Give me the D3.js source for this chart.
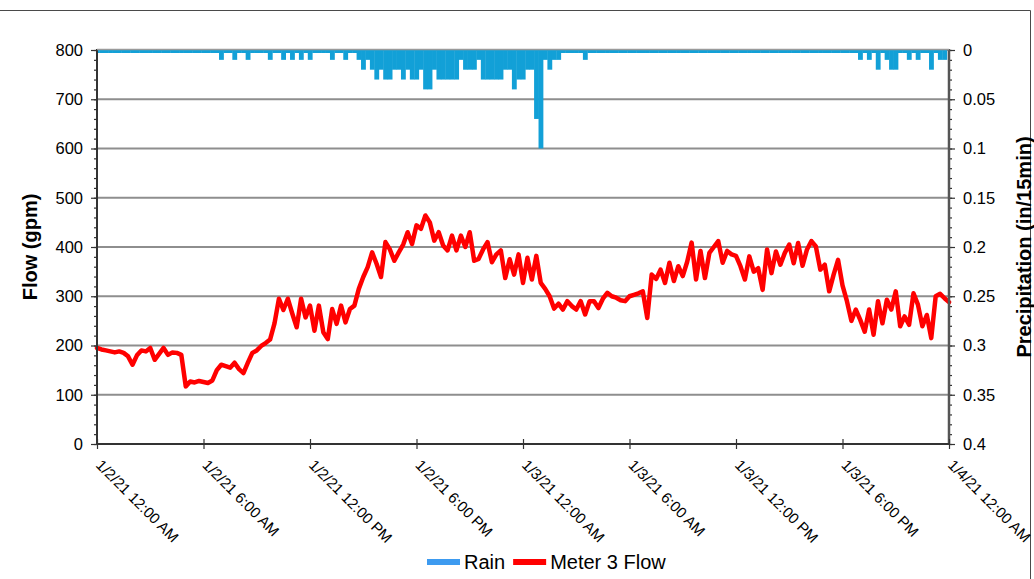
<!DOCTYPE html>
<html>
<head>
<meta charset="utf-8">
<script src="https://cdn.jsdelivr.net/npm/d3@7"></script>
<style>
  html, body { margin: 0; padding: 0; background: #fff; }
  svg { display: block; font-family: Arial, "Liberation Sans", sans-serif; }
</style>
</head>
<body>
<svg id="chart" width="1034" height="579"></svg>
<script>
// Meter 3 flow and rainfall, 15-minute readings from 1/2/21 00:00 to 1/4/21 00:00
const startTime = new Date(2021, 0, 2, 0, 0);
const endTime = new Date(2021, 0, 4, 0, 0);
const stepMinutes = 15;

// Meter 3 flow (gpm), one reading every 15 minutes (193 readings)
const flowGpm = [
  195,192,190,188,186,188,185,178,161,180,190,188,195,171,183,195,
  181,186,185,181,117,127,125,128,126,124,129,150,161,158,155,165,
  152,144,165,185,190,199,205,212,245,295,272,295,265,237,295,257,
  281,230,281,227,213,274,244,281,247,274,281,315,339,359,389,366,
  339,410,395,372,389,405,430,406,444,437,464,450,413,430,403,393,
  423,393,423,400,430,372,376,395,410,369,385,393,337,375,344,385,
  327,378,334,382,327,315,300,275,285,273,290,280,273,290,263,290,
  290,276,295,307,300,297,292,290,300,303,306,310,256,344,335,354,
  327,368,331,361,341,370,409,334,392,337,388,400,412,368,392,385,
  382,361,334,381,350,357,313,395,347,391,364,388,405,367,408,362,
  395,412,401,354,364,310,344,374,322,290,250,273,252,228,273,222,
  290,245,293,273,310,239,259,242,306,283,239,262,215,300,305,296,
  288
];

// Rainfall (in per 15 min), one value per 15-minute interval (192 intervals)
const rainIn = [
  0,0,0,0,0,0,0,0,0,0,0,0,0,0,0,0,
  0,0,0,0,0,0,0,0,0,0,0,0,0.01,0,0,0.01,
  0,0,0.01,0,0,0,0,0.01,0,0,0.01,0,0.01,0,0.01,0,
  0.01,0,0,0,0,0.01,0,0,0.01,0,0,0.01,0.02,0.01,0.02,0.03,
  0.02,0.03,0.03,0.02,0.02,0.03,0.02,0.03,0.03,0.02,0.04,0.04,0.02,0.03,0.03,0.03,
  0.03,0.03,0.01,0.02,0.02,0.02,0.01,0.03,0.03,0.03,0.03,0.03,0.02,0.02,0.04,0.03,
  0.03,0.02,0.02,0.07,0.1,0.01,0.02,0.01,0.01,0,0,0,0,0,0.01,0,
  0,0,0,0,0,0,0,0,0,0,0,0,0,0,0,0,
  0,0,0,0,0,0,0,0,0,0,0,0,0,0,0,0,
  0,0,0,0,0,0,0,0,0,0,0,0,0,0,0,0,
  0,0,0,0,0,0,0,0,0,0,0,0,0.01,0,0.01,0,
  0.02,0,0.01,0.02,0.02,0,0,0.01,0,0.01,0,0,0.02,0,0.01,0.01
];

// Axis ticks and labels
const flowTicks = [0, 100, 200, 300, 400, 500, 600, 700, 800];
const flowMinorTicks = d3.range(0, 801, 20);
const rainTicks = [0, 0.05, 0.1, 0.15, 0.2, 0.25, 0.3, 0.35, 0.4];
const rainMinorTicks = d3.range(0, 0.4001, 0.01);
const timeTickLabels = [
  "1/2/21 12:00 AM", "1/2/21 6:00 AM", "1/2/21 12:00 PM", "1/2/21 6:00 PM",
  "1/3/21 12:00 AM", "1/3/21 6:00 AM", "1/3/21 12:00 PM", "1/3/21 6:00 PM",
  "1/4/21 12:00 AM"
];
const timeTicks = d3.timeHour.every(6).range(startTime, d3.timeMinute.offset(endTime, 1));

const legendItems = [
  { name: "Rain", color: "#3d9bf0" },
  { name: "Meter 3 Flow", color: "#ff0000" }
];

const svg = d3.select("#chart");
const plot = { left: 97, right: 949, top: 50, bottom: 444 };

const x = d3.scaleTime().domain([startTime, endTime]).range([plot.left, plot.right]);
const yFlow = d3.scaleLinear().domain([0, 800]).range([plot.bottom, plot.top]);
const yRain = d3.scaleLinear().domain([0, 0.4]).range([plot.top, plot.bottom]);
const timeAt = i => d3.timeMinute.offset(startTime, i * stepMinutes);

// outer frame
svg.append("path")
  .attr("d", "M0,10.5H1030.5V579")
  .attr("fill", "none")
  .attr("stroke", "#4a4a4a")
  .attr("stroke-width", 1);

svg.append("clipPath").attr("id", "plotClip")
  .append("rect")
  .attr("x", plot.left).attr("y", plot.top)
  .attr("width", plot.right - plot.left).attr("height", plot.bottom - plot.top);

// horizontal gridlines
svg.append("g")
  .selectAll("line")
  .data(flowTicks.filter(v => v > 0))
  .join("line")
  .attr("x1", plot.left).attr("x2", plot.right)
  .attr("y1", d => yFlow(d)).attr("y2", d => yFlow(d))
  .attr("stroke", "#8e8e8e")
  .attr("stroke-width", 2);

// rain columns hanging from the top of the plot
const barW = x(timeAt(1)) - x(timeAt(0));
svg.append("g")
  .attr("clip-path", "url(#plotClip)")
  .selectAll("rect")
  .data(rainIn)
  .join("rect")
  .attr("x", (d, i) => x(timeAt(i)) - barW / 2)
  .attr("y", plot.top)
  .attr("width", barW + 0.4)
  .attr("height", d => Math.max(yRain(d) - plot.top, 3))
  .attr("fill", "#12a0d7");

// flow line
const flowLine = d3.line()
  .x((d, i) => x(timeAt(i)))
  .y(d => yFlow(d));
svg.append("path")
  .datum(flowGpm)
  .attr("d", flowLine)
  .attr("fill", "none")
  .attr("stroke", "#ff0000")
  .attr("stroke-width", 4.5)
  .attr("stroke-linejoin", "round")
  .attr("stroke-linecap", "round");

const axisColor = "#333";

function styleAxis(g) {
  g.select(".domain").remove();
  g.selectAll(".tick line").attr("stroke", axisColor).attr("stroke-width", 1.2);
  g.selectAll(".tick text").attr("fill", "#000").style("font-size", "16.5px");
}

// left axis (flow)
svg.append("g")
  .attr("transform", `translate(${plot.left},0)`)
  .call(d3.axisLeft(yFlow).tickValues(flowMinorTicks).tickSize(3).tickFormat(""))
  .call(styleAxis);
svg.append("g")
  .attr("transform", `translate(${plot.left},0)`)
  .call(d3.axisLeft(yFlow).tickValues(flowTicks).tickSize(6).tickPadding(8).tickFormat(d3.format("d")))
  .call(styleAxis);

// right axis (rain)
svg.append("g")
  .attr("transform", `translate(${plot.right},0)`)
  .call(d3.axisRight(yRain).tickValues(rainMinorTicks).tickSize(3).tickFormat(""))
  .call(styleAxis);
svg.append("g")
  .attr("transform", `translate(${plot.right},0)`)
  .call(d3.axisRight(yRain).tickValues(rainTicks).tickSize(6).tickPadding(8).tickFormat(d => d3.format("~g")(+d.toFixed(2))))
  .call(styleAxis);

// axis lines
svg.append("line")
  .attr("x1", plot.left).attr("x2", plot.left)
  .attr("y1", plot.top - 1).attr("y2", plot.bottom)
  .attr("stroke", axisColor).attr("stroke-width", 2);
svg.append("line")
  .attr("x1", plot.right).attr("x2", plot.right)
  .attr("y1", plot.top - 1).attr("y2", plot.bottom)
  .attr("stroke", "#555").attr("stroke-width", 2.5);
svg.append("line")
  .attr("x1", plot.left).attr("x2", plot.right)
  .attr("y1", plot.top - 0.5).attr("y2", plot.top - 0.5)
  .attr("stroke", "#9a9a9a").attr("stroke-width", 1.5);

// bottom time axis
const xAxis = svg.append("g")
  .attr("transform", `translate(0,${plot.bottom})`)
  .call(d3.axisBottom(x).tickValues(timeTicks).tickSize(5).tickFormat(""));
xAxis.select(".domain").remove();
xAxis.selectAll(".tick line").attr("y1", -5).attr("stroke", axisColor).attr("stroke-width", 1.2);
svg.append("line")
  .attr("x1", plot.left).attr("x2", plot.right)
  .attr("y1", plot.bottom).attr("y2", plot.bottom)
  .attr("stroke", axisColor).attr("stroke-width", 2);

svg.append("g")
  .selectAll("text")
  .data(timeTicks)
  .join("text")
  .attr("transform", d => `translate(${x(d) - 2},${plot.bottom + 22}) rotate(45)`)
  .style("font-size", "15px")
  .attr("fill", "#000")
  .text((d, i) => timeTickLabels[i]);

// axis titles
svg.append("text")
  .attr("transform", `translate(37,${(plot.top + plot.bottom) / 2}) rotate(-90)`)
  .attr("text-anchor", "middle")
  .style("font-size", "20px")
  .style("font-weight", "bold")
  .text("Flow (gpm)");
svg.append("text")
  .attr("transform", `translate(1031,${(plot.top + plot.bottom) / 2}) rotate(-90)`)
  .attr("text-anchor", "middle")
  .style("font-size", "20px")
  .style("font-weight", "bold")
  .text("Precipitation (in/15min)");

// legend
const legend = svg.append("g").attr("transform", "translate(427,562)");
let lx = 0;
legendItems.forEach(item => {
  const g = legend.append("g").attr("transform", `translate(${lx},0)`);
  g.append("line")
    .attr("x1", 0).attr("x2", 33)
    .attr("stroke", item.color)
    .attr("stroke-width", 6);
  const t = g.append("text")
    .attr("x", 37).attr("y", 7)
    .style("font-size", "20px")
    .attr("fill", "#000")
    .text(item.name);
  lx += 37 + t.node().getComputedTextLength() + 8;
});
</script>
</body>
</html>
